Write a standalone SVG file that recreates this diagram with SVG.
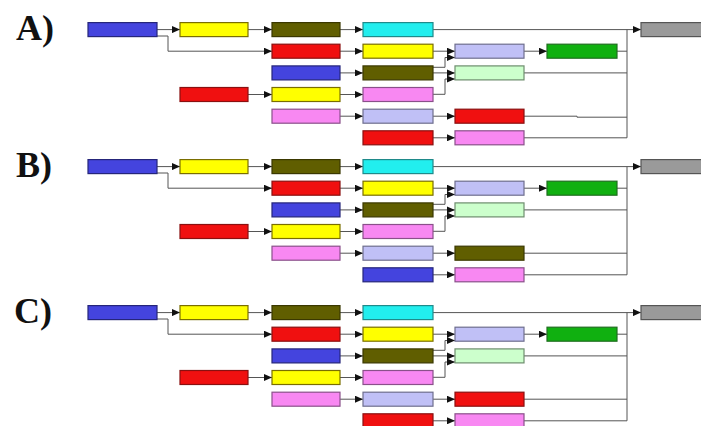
<svg xmlns="http://www.w3.org/2000/svg" width="701" height="426" viewBox="0 0 701 426">
<style>
.lbl{font-family:"Liberation Serif","Times New Roman",serif;font-weight:bold;font-size:36px;fill:#111}
rect{stroke-width:1.2}
.blue{fill:#4444de;stroke:#25257a}
.yellow{fill:#ffff00;stroke:#7a6e00}
.olive{fill:#605e00;stroke:#3a3800}
.red{fill:#f01010;stroke:#8a1010}
.cyan{fill:#22eeee;stroke:#1f8a8a}
.pink{fill:#f888f2;stroke:#8a508a}
.lav{fill:#c0c0f6;stroke:#6e6e8e}
.lgreen{fill:#ccffcc;stroke:#6e8e6e}
.green{fill:#10b010;stroke:#1e6e1e}
.gray{fill:#9a9a9a;stroke:#555}
.c path{fill:none;stroke:#555;stroke-width:1}
.c path.a{marker-end:url(#ah)}
</style>
<defs>
<marker id="ah" markerUnits="userSpaceOnUse" markerWidth="8" markerHeight="7" refX="8" refY="3.5" orient="auto">
<path d="M0,0 L8,3.5 L0,7 z" fill="#111"/>
</marker>
</defs>

<!-- Panel A -->
<g id="panelA">
<text class="lbl" x="16" y="40">A)</text>
<g class="c" id="A_connectors">
<path class="a" d="M157,29.6 H180"/>
<path class="a" d="M157,36 H168 V51.2 H272"/>
<path class="a" d="M248,29.6 H272"/>
<path class="a" d="M248,94.5 H272"/>
<path class="a" d="M340,29.6 H363"/>
<path class="a" d="M340,51.2 H363"/>
<path class="a" d="M340,72.9 H363"/>
<path class="a" d="M340,94.5 H363"/>
<path class="a" d="M340,116.2 H363"/>
<path class="a" d="M433,51.2 H455"/>
<path class="a" d="M433,67.3 H445 V57.5 H455"/>
<path class="a" d="M433,72.9 H455"/>
<path class="a" d="M433,94.3 H445 V79 H455"/>
<path class="a" d="M433,116.2 H455"/>
<path class="a" d="M433,137.8 H455"/>
<path class="a" d="M524,51.2 H547"/>
<path d="M617,51.2 H627"/>
<path d="M524,72.9 H627"/>
<path d="M524,116.2 H577 V117.2 H627"/>
<path d="M524,137.8 H627"/>
<path class="a" d="M433,29.6 H641"/>
<path d="M627,29.6 V137.8"/>
</g>
<g id="A_n1"><rect class="blue" x="88" y="22.6" width="69" height="14"/></g>
<g id="A_n2"><rect class="yellow" x="180" y="22.6" width="68" height="14"/></g>
<g id="A_n3"><rect class="red" x="180" y="87.5" width="68" height="14"/></g>
<g id="A_n4"><rect class="olive" x="272" y="22.6" width="68" height="14"/></g>
<g id="A_n5"><rect class="red" x="272" y="44.2" width="68" height="14"/></g>
<g id="A_n6"><rect class="blue" x="272" y="65.9" width="68" height="14"/></g>
<g id="A_n7"><rect class="yellow" x="272" y="87.5" width="68" height="14"/></g>
<g id="A_n8"><rect class="pink" x="272" y="109.2" width="68" height="14"/></g>
<g id="A_n9"><rect class="cyan" x="363" y="22.6" width="70" height="14"/></g>
<g id="A_n10"><rect class="yellow" x="363" y="44.2" width="70" height="14"/></g>
<g id="A_n11"><rect class="olive" x="363" y="65.9" width="70" height="14"/></g>
<g id="A_n12"><rect class="pink" x="363" y="87.5" width="70" height="14"/></g>
<g id="A_n13"><rect class="lav" x="363" y="109.2" width="70" height="14"/></g>
<g id="A_n14"><rect class="red" x="363" y="130.8" width="70" height="14"/></g>
<g id="A_n15"><rect class="lav" x="455" y="44.2" width="69" height="14"/></g>
<g id="A_n16"><rect class="lgreen" x="455" y="65.9" width="69" height="14"/></g>
<g id="A_n17"><rect class="red" x="455" y="109.2" width="69" height="14"/></g>
<g id="A_n18"><rect class="pink" x="455" y="130.8" width="69" height="14"/></g>
<g id="A_n19"><rect class="green" x="547" y="44.2" width="70" height="14"/></g>
<g id="A_n20"><rect class="gray" x="641" y="22.6" width="70" height="14"/></g>
</g>

<!-- Panel B -->
<g id="panelB" transform="translate(0,137)">
<text class="lbl" x="16" y="40">B)</text>
<g class="c" id="B_connectors">
<path class="a" d="M157,29.6 H180"/>
<path class="a" d="M157,36 H168 V51.2 H272"/>
<path class="a" d="M248,29.6 H272"/>
<path class="a" d="M248,94.5 H272"/>
<path class="a" d="M340,29.6 H363"/>
<path class="a" d="M340,51.2 H363"/>
<path class="a" d="M340,72.9 H363"/>
<path class="a" d="M340,94.5 H363"/>
<path class="a" d="M340,116.2 H363"/>
<path class="a" d="M433,51.2 H455"/>
<path class="a" d="M433,67.3 H445 V57.5 H455"/>
<path class="a" d="M433,72.9 H455"/>
<path class="a" d="M433,94.3 H445 V79 H455"/>
<path class="a" d="M433,116.2 H455"/>
<path class="a" d="M433,137.8 H455"/>
<path class="a" d="M524,51.2 H547"/>
<path d="M617,51.2 H627"/>
<path d="M524,72.9 H627"/>
<path d="M524,116.2 H627"/>
<path d="M524,137.8 H627"/>
<path class="a" d="M433,29.6 H641"/>
<path d="M627,29.6 V137.8"/>
</g>
<g id="B_n1"><rect class="blue" x="88" y="22.6" width="69" height="14"/></g>
<g id="B_n2"><rect class="yellow" x="180" y="22.6" width="68" height="14"/></g>
<g id="B_n3"><rect class="red" x="180" y="87.5" width="68" height="14"/></g>
<g id="B_n4"><rect class="olive" x="272" y="22.6" width="68" height="14"/></g>
<g id="B_n5"><rect class="red" x="272" y="44.2" width="68" height="14"/></g>
<g id="B_n6"><rect class="blue" x="272" y="65.9" width="68" height="14"/></g>
<g id="B_n7"><rect class="yellow" x="272" y="87.5" width="68" height="14"/></g>
<g id="B_n8"><rect class="pink" x="272" y="109.2" width="68" height="14"/></g>
<g id="B_n9"><rect class="cyan" x="363" y="22.6" width="70" height="14"/></g>
<g id="B_n10"><rect class="yellow" x="363" y="44.2" width="70" height="14"/></g>
<g id="B_n11"><rect class="olive" x="363" y="65.9" width="70" height="14"/></g>
<g id="B_n12"><rect class="pink" x="363" y="87.5" width="70" height="14"/></g>
<g id="B_n13"><rect class="lav" x="363" y="109.2" width="70" height="14"/></g>
<g id="B_n14"><rect class="blue" x="363" y="130.8" width="70" height="14"/></g>
<g id="B_n15"><rect class="lav" x="455" y="44.2" width="69" height="14"/></g>
<g id="B_n16"><rect class="lgreen" x="455" y="65.9" width="69" height="14"/></g>
<g id="B_n17"><rect class="olive" x="455" y="109.2" width="69" height="14"/></g>
<g id="B_n18"><rect class="pink" x="455" y="130.8" width="69" height="14"/></g>
<g id="B_n19"><rect class="green" x="547" y="44.2" width="70" height="14"/></g>
<g id="B_n20"><rect class="gray" x="641" y="22.6" width="70" height="14"/></g>
</g>

<!-- Panel C -->
<g id="panelC" transform="translate(0,283)">
<text class="lbl" x="14" y="40">C)</text>
<g class="c" id="C_connectors">
<path class="a" d="M157,29.6 H180"/>
<path class="a" d="M157,36 H168 V51.2 H272"/>
<path class="a" d="M248,29.6 H272"/>
<path class="a" d="M248,94.5 H272"/>
<path class="a" d="M340,29.6 H363"/>
<path class="a" d="M340,51.2 H363"/>
<path class="a" d="M340,72.9 H363"/>
<path class="a" d="M340,94.5 H363"/>
<path class="a" d="M340,116.2 H363"/>
<path class="a" d="M433,51.2 H455"/>
<path class="a" d="M433,67.3 H445 V57.5 H455"/>
<path class="a" d="M433,72.9 H455"/>
<path class="a" d="M433,94.3 H445 V79 H455"/>
<path class="a" d="M433,116.2 H455"/>
<path class="a" d="M433,137.8 H455"/>
<path class="a" d="M524,51.2 H547"/>
<path d="M617,51.2 H627"/>
<path d="M524,72.9 H627"/>
<path d="M524,116.2 H627"/>
<path d="M524,137.8 H627"/>
<path class="a" d="M433,29.6 H641"/>
<path d="M627,29.6 V137.8"/>
</g>
<g id="C_n1"><rect class="blue" x="88" y="22.6" width="69" height="14"/></g>
<g id="C_n2"><rect class="yellow" x="180" y="22.6" width="68" height="14"/></g>
<g id="C_n3"><rect class="red" x="180" y="87.5" width="68" height="14"/></g>
<g id="C_n4"><rect class="olive" x="272" y="22.6" width="68" height="14"/></g>
<g id="C_n5"><rect class="red" x="272" y="44.2" width="68" height="14"/></g>
<g id="C_n6"><rect class="blue" x="272" y="65.9" width="68" height="14"/></g>
<g id="C_n7"><rect class="yellow" x="272" y="87.5" width="68" height="14"/></g>
<g id="C_n8"><rect class="pink" x="272" y="109.2" width="68" height="14"/></g>
<g id="C_n9"><rect class="cyan" x="363" y="22.6" width="70" height="14"/></g>
<g id="C_n10"><rect class="yellow" x="363" y="44.2" width="70" height="14"/></g>
<g id="C_n11"><rect class="olive" x="363" y="65.9" width="70" height="14"/></g>
<g id="C_n12"><rect class="pink" x="363" y="87.5" width="70" height="14"/></g>
<g id="C_n13"><rect class="lav" x="363" y="109.2" width="70" height="14"/></g>
<g id="C_n14"><rect class="red" x="363" y="130.8" width="70" height="14"/></g>
<g id="C_n15"><rect class="lav" x="455" y="44.2" width="69" height="14"/></g>
<g id="C_n16"><rect class="lgreen" x="455" y="65.9" width="69" height="14"/></g>
<g id="C_n17"><rect class="red" x="455" y="109.2" width="69" height="14"/></g>
<g id="C_n18"><rect class="pink" x="455" y="130.8" width="69" height="14"/></g>
<g id="C_n19"><rect class="green" x="547" y="44.2" width="70" height="14"/></g>
<g id="C_n20"><rect class="gray" x="641" y="22.6" width="70" height="14"/></g>
</g>
</svg>
